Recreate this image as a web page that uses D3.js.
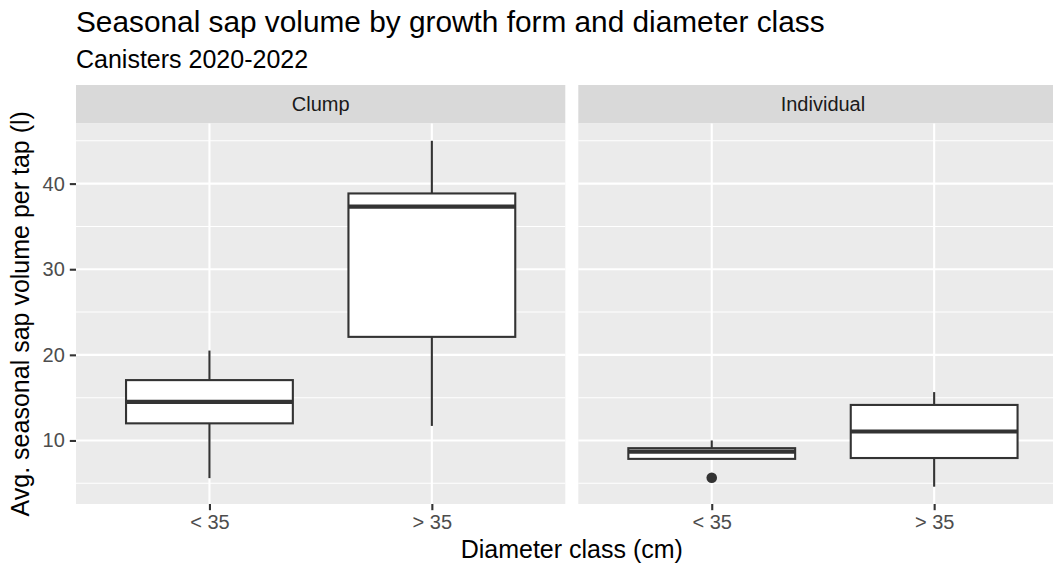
<!DOCTYPE html>
<html>
<head>
<meta charset="utf-8">
<script src="https://cdn.jsdelivr.net/npm/d3@7"></script>
<style>
  html, body { margin: 0; padding: 0; background: #fff; overflow: hidden; }
  svg { display: block; overflow: hidden; font-family: "Liberation Sans", Arial, Helvetica, sans-serif; }
</style>
</head>
<body>
<svg id="chart" width="1053" height="567"></svg>
<script>
// Facets (growth form) and x categories (diameter class)
const facets = ["Clump", "Individual"];
const classes = ["< 35", "> 35"];

// Five-number summaries per facet/class: [lower whisker, Q1, median, Q3, upper whisker]
const clumpStats = [
  [5.6, 12.0, 14.5, 17.05, 20.5],
  [11.7, 22.1, 37.3, 38.85, 45.0]
];
const individualStats = [
  [7.85, 7.85, 8.7, 9.1, 10.0],
  [4.6, 7.95, 11.05, 14.15, 15.65]
];
// Outliers per facet/class
const clumpOutliers = [[], []];
const individualOutliers = [[5.65], []];

const yMajorTicks = [10, 20, 30, 40];
const yMinorTicks = [5, 15, 25, 35, 45];

const title = "Seasonal sap volume by growth form and diameter class";
const subtitle = "Canisters 2020-2022";
const xTitle = "Diameter class (cm)";
const yTitle = "Avg. seasonal sap volume per tap (l)";

// Assemble rows for drawing
const statsByFacet = [clumpStats, individualStats];
const outliersByFacet = [clumpOutliers, individualOutliers];
const rows = [];
facets.forEach((f, fi) => {
  classes.forEach((c, ci) => {
    const s = statsByFacet[fi][ci];
    rows.push({ facet: f, cls: c, lo: s[0], q1: s[1], med: s[2], q3: s[3], hi: s[4], out: outliersByFacet[fi][ci] });
  });
});

// Layout
const panelTop = 123.5, panelBottom = 504;
const stripTop = 85;
const panelW = 489.3, panelGap = 13;
const panelLeft0 = 76;

const svg = d3.select("#chart");

// Y scale with 5% expansion around data range
const allVals = rows.flatMap(r => [r.lo, r.hi, ...r.out]);
const vMin = d3.min(allVals), vMax = d3.max(allVals);
const pad = (vMax - vMin) * 0.05;
const y = d3.scaleLinear().domain([vMin - pad, vMax + pad]).range([panelBottom, panelTop]);

const boxStroke = "#333333";
const lw = 2.1;

facets.forEach((f, fi) => {
  const x0 = panelLeft0 + fi * (panelW + panelGap);
  const x1 = x0 + panelW;
  const x = d3.scalePoint().domain(classes).range([x0, x1]).padding(0.6);
  const bw = x.step() * 0.75;

  const g = svg.append("g");

  // Strip
  g.append("rect").attr("x", x0).attr("y", stripTop).attr("width", panelW).attr("height", panelTop - stripTop)
    .attr("fill", "#D9D9D9");
  g.append("text").attr("x", (x0 + x1) / 2).attr("y", (stripTop + panelTop) / 2).attr("dy", "0.35em")
    .attr("text-anchor", "middle").attr("font-size", 20).attr("fill", "#1A1A1A").text(f);

  // Panel background
  g.append("rect").attr("x", x0).attr("y", panelTop).attr("width", panelW).attr("height", panelBottom - panelTop)
    .attr("fill", "#EBEBEB");

  // Grid
  g.selectAll(".minor").data(yMinorTicks.filter(t => t >= y.domain()[0] && t <= y.domain()[1])).join("line")
    .attr("x1", x0).attr("x2", x1).attr("y1", d => y(d)).attr("y2", d => y(d))
    .attr("stroke", "#fff").attr("stroke-width", lw / 2);
  g.selectAll(".major").data(yMajorTicks).join("line")
    .attr("x1", x0).attr("x2", x1).attr("y1", d => y(d)).attr("y2", d => y(d))
    .attr("stroke", "#fff").attr("stroke-width", lw);
  g.selectAll(".vgrid").data(classes).join("line")
    .attr("x1", d => x(d)).attr("x2", d => x(d)).attr("y1", panelTop).attr("y2", panelBottom)
    .attr("stroke", "#fff").attr("stroke-width", lw);

  // Boxplots
  const fr = rows.filter(r => r.facet === f);
  const bg = g.selectAll(".box").data(fr).join("g");
  bg.append("line").attr("x1", d => x(d.cls)).attr("x2", d => x(d.cls))
    .attr("y1", d => y(d.hi)).attr("y2", d => y(d.q3)).attr("stroke", boxStroke).attr("stroke-width", lw);
  bg.append("line").attr("x1", d => x(d.cls)).attr("x2", d => x(d.cls))
    .attr("y1", d => y(d.q1)).attr("y2", d => y(d.lo)).attr("stroke", boxStroke).attr("stroke-width", lw);
  bg.append("rect").attr("x", d => x(d.cls) - bw / 2).attr("width", bw)
    .attr("y", d => y(d.q3)).attr("height", d => y(d.q1) - y(d.q3))
    .attr("fill", "#fff").attr("stroke", boxStroke).attr("stroke-width", lw);
  bg.append("line").attr("x1", d => x(d.cls) - bw / 2).attr("x2", d => x(d.cls) + bw / 2)
    .attr("y1", d => y(d.med)).attr("y2", d => y(d.med)).attr("stroke", boxStroke).attr("stroke-width", lw * 2);
  bg.each(function(d) {
    d3.select(this).selectAll("circle").data(d.out).join("circle")
      .attr("cx", x(d.cls)).attr("cy", v => y(v)).attr("r", 5.3).attr("fill", boxStroke);
  });

  // X axis
  const xa = svg.append("g").attr("transform", `translate(0,${panelBottom})`)
    .call(d3.axisBottom(x).tickSize(6.2).tickPadding(5));
  xa.select(".domain").remove();
  xa.selectAll(".tick line").attr("stroke", boxStroke).attr("stroke-width", lw);
  xa.selectAll(".tick text").attr("fill", "#4D4D4D").attr("font-size", 20)
    .attr("font-family", "Liberation Sans, Arial, sans-serif");
});

// Y axis
const ya = svg.append("g").attr("transform", `translate(${panelLeft0},0)`)
  .call(d3.axisLeft(y).tickValues(yMajorTicks).tickSize(6.2).tickPadding(5).tickFormat(d3.format("d")));
ya.select(".domain").remove();
ya.selectAll(".tick line").attr("stroke", boxStroke).attr("stroke-width", lw);
ya.selectAll(".tick text").attr("fill", "#4D4D4D").attr("font-size", 20)
  .attr("font-family", "Liberation Sans, Arial, sans-serif");

// Titles
svg.append("text").attr("x", panelLeft0).attr("y", 32).attr("font-size", 29.8).attr("fill", "#000").text(title);
svg.append("text").attr("x", panelLeft0).attr("y", 68).attr("font-size", 25).attr("fill", "#000").text(subtitle);

const plotCenter = panelLeft0 + (2 * panelW + panelGap) / 2;
svg.append("text").attr("x", plotCenter).attr("y", 558).attr("text-anchor", "middle")
  .attr("font-size", 25).attr("fill", "#000").text(xTitle);
svg.append("text").attr("transform", `translate(29,${(panelTop + panelBottom) / 2}) rotate(-90)`)
  .attr("text-anchor", "middle").attr("font-size", 25).attr("fill", "#000").text(yTitle);
</script>
</body>
</html>
